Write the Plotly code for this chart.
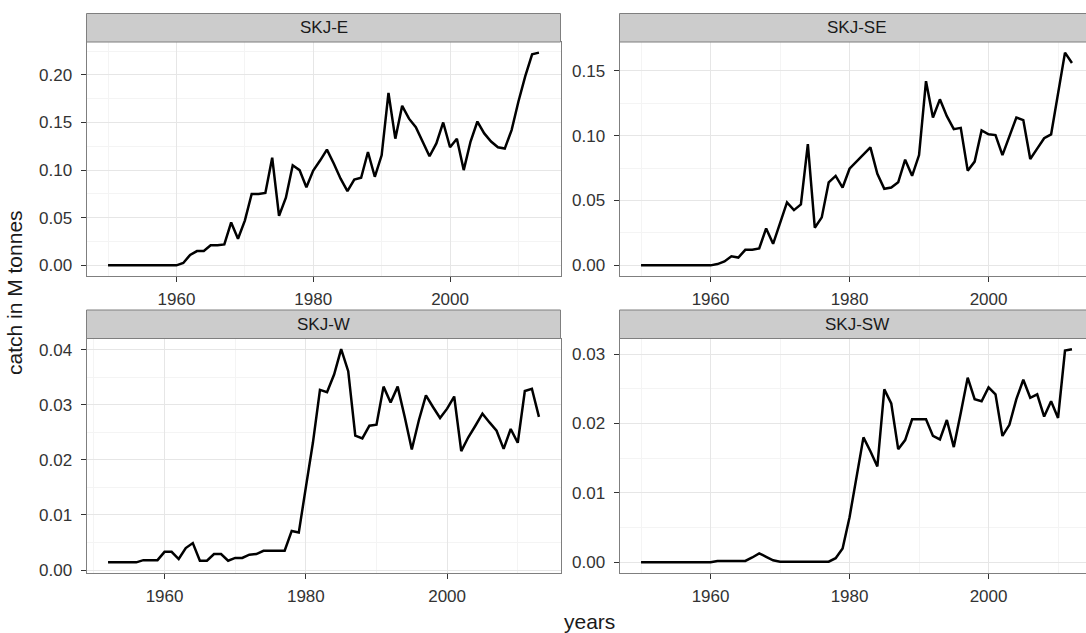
import plotly.graph_objects as go

# ---------------- data ----------------
panel_names = ["SKJ-E", "SKJ-SE", "SKJ-W", "SKJ-SW"]

years_E = list(range(1950, 2014))
catch_E = [0, 0, 0, 0, 0, 0, 0, 0, 0, 0, 0,
           0.0025, 0.011, 0.015, 0.015, 0.021, 0.021, 0.022, 0.045, 0.028, 0.047,
           0.075, 0.075, 0.076, 0.113, 0.052, 0.071, 0.105, 0.100, 0.082, 0.0996,
           0.11, 0.1215, 0.107, 0.091, 0.078, 0.09, 0.092, 0.119, 0.093, 0.1155,
           0.181, 0.133, 0.1675, 0.154, 0.145, 0.13, 0.1145, 0.128, 0.15, 0.124,
           0.133, 0.10, 0.13, 0.151, 0.1385, 0.13, 0.124, 0.1226, 0.142, 0.172,
           0.1986, 0.2216, 0.2233]

years_SE = list(range(1950, 2013))
catch_SE = [0, 0, 0, 0, 0, 0, 0, 0, 0, 0, 0,
            0.001, 0.003, 0.007, 0.006, 0.012, 0.012, 0.013, 0.0285, 0.0166, 0.032,
            0.0485, 0.0426, 0.047, 0.0934, 0.029, 0.037, 0.064, 0.069, 0.060, 0.0745,
            0.08, 0.086, 0.091, 0.0706, 0.059, 0.060, 0.064, 0.0815, 0.069, 0.085,
            0.142, 0.114, 0.128, 0.115, 0.105, 0.106, 0.073, 0.080, 0.104, 0.101,
            0.1004, 0.085, 0.099, 0.114, 0.112, 0.082, 0.090, 0.098, 0.101, 0.133,
            0.164, 0.156]

years_W = list(range(1952, 2014))
catch_W = [0.0014, 0.0014, 0.0014, 0.0014, 0.0014,
           0.0018, 0.0018, 0.0018,
           0.0033, 0.0033, 0.002, 0.004, 0.0049, 0.0017, 0.0017, 0.0029, 0.0029, 0.0017, 0.0022, 0.0022,
           0.0028, 0.0029, 0.0035, 0.0035, 0.0035, 0.0035, 0.0071, 0.0068, 0.015, 0.0231,
           0.0327, 0.0323, 0.0355, 0.0401, 0.0361, 0.0244, 0.0239, 0.0262, 0.0264, 0.0333,
           0.0304, 0.0333, 0.0278, 0.0219, 0.0272, 0.0317, 0.0296, 0.0276, 0.0293, 0.0315,
           0.0216, 0.0241, 0.0262, 0.0284, 0.0268, 0.0253, 0.022, 0.0256, 0.0231, 0.0325,
           0.0329, 0.0278]

years_SW = list(range(1950, 2013))
catch_SW = [0, 0, 0, 0, 0, 0, 0, 0, 0, 0, 0,
            0.0002, 0.0002, 0.0002, 0.0002, 0.0002,
            0.0007, 0.0013, 0.0008, 0.0003, 0.0001,
            0.0001, 0.0001, 0.0001, 0.0001, 0.0001, 0.0001, 0.0001,
            0.0006, 0.002, 0.0065, 0.0125, 0.018, 0.016, 0.0138, 0.0249, 0.0229, 0.0163,
            0.0176, 0.0206, 0.0206, 0.0206, 0.0182, 0.0177, 0.0205, 0.0166, 0.0215, 0.0266,
            0.0235, 0.0232, 0.0252, 0.0242, 0.0182, 0.0198, 0.0235, 0.0263, 0.0237, 0.0242,
            0.021, 0.0232, 0.0208, 0.0305, 0.0307]

y_major = [0.05, 0.05, 0.01, 0.01]
x_ticks = [1960, 1980, 2000]

# ---------------- layout geometry (pixels) ----------------
W, H = 1086, 633
col_px = [(86.5, 560.5), (619.5, 1086.0)]
row_px = [(42.0, 276.0), (338.5, 573.0)]      # plot area top/bottom
strip_px = [(13.5, 42.0), (310.0, 338.5)]     # strip top/bottom
full_w = col_px[0][1] - col_px[0][0]

FONT = "Liberation Sans, Arial, sans-serif"
TICK_COLOR = "#333333"

series = [(years_E, catch_E), (years_SE, catch_SE), (years_W, catch_W), (years_SW, catch_SW)]

fig = go.Figure()
shapes = []
annotations = []

for i, (name, (yrs, vals), dmaj) in enumerate(zip(panel_names, series, y_major)):
    r, c = divmod(i, 2)
    ax = "" if i == 0 else str(i + 1)
    fig.add_trace(go.Scatter(x=yrs, y=vals, mode="lines",
                             line=dict(color="black", width=2.5),
                             xaxis="x" + ax, yaxis="y" + ax, showlegend=False,
                             hoverinfo="x+y"))
    x0p, x1p = col_px[c]
    y0p, y1p = row_px[r]
    xd = [x0p / W, x1p / W]
    yd = [1 - y1p / H, 1 - y0p / H]

    lo, hi = min(yrs), max(yrs)
    span = hi - lo
    a, b = lo - 0.05 * span, hi + 0.05 * span
    frac = (x1p - x0p) / full_w
    xr = [a, a + frac * (b - a)]

    vlo, vhi = min(vals), max(vals)
    vs = vhi - vlo
    yr = [vlo - 0.05 * vs, vhi + 0.05 * vs]

    common = dict(showline=True, linecolor="#7F7F7F", linewidth=1,
                  ticks="outside", ticklen=5, tickwidth=1, tickcolor=TICK_COLOR,
                  showgrid=True, gridcolor="#E6E6E6", gridwidth=1,
                  zeroline=False, automargin=False,
                  tickfont=dict(family=FONT, size=17, color=TICK_COLOR))
    fig.layout["xaxis" + ax] = dict(common, domain=xd, range=xr, anchor="y" + ax,
                                    tickmode="array", tickvals=x_ticks,
                                    ticktext=[str(t) for t in x_ticks],
                                    mirror=True, ticklabelstandoff=3,
                                    minor=dict(showgrid=True, gridcolor="#F4F4F4",
                                               tickmode="array",
                                               tickvals=[1950, 1970, 1990, 2010]))
    fig.layout["yaxis" + ax] = dict(common, domain=yd, range=yr, anchor="x" + ax,
                                    tick0=0, dtick=dmaj, tickformat=".2f",
                                    mirror=(c == 0), ticklabelstandoff=5,
                                    minor=dict(showgrid=True, gridcolor="#F4F4F4",
                                               tick0=0, dtick=dmaj / 2))

    # strip
    st, sb = strip_px[r]
    sx1 = x1p / W if c == 0 else 1.02
    shapes.append(dict(type="rect", xref="paper", yref="paper",
                       x0=x0p / W, x1=sx1, y0=1 - sb / H, y1=1 - st / H,
                       fillcolor="#CCCCCC", line=dict(color="#7F7F7F", width=1),
                       layer="above"))
    cx = (x0p + x0p + full_w) / 2 / W
    annotations.append(dict(text=name, xref="paper", yref="paper",
                            x=cx, y=1 - (st + sb) / 2 / H, showarrow=False,
                            xanchor="center", yanchor="middle",
                            font=dict(family=FONT, size=17, color="#1A1A1A")))

annotations.append(dict(text="years", xref="paper", yref="paper",
                        x=589.5 / W, y=1 - 621 / H, showarrow=False,
                        xanchor="center", yanchor="middle",
                        font=dict(family=FONT, size=21, color="#1A1A1A")))
annotations.append(dict(text="catch in M tonnes", xref="paper", yref="paper",
                        x=14 / W, y=1 - 293 / H, showarrow=False, textangle=-90,
                        xanchor="center", yanchor="middle",
                        font=dict(family=FONT, size=21, color="#1A1A1A")))

fig.update_layout(width=W, height=H, margin=dict(l=0, r=0, t=0, b=0),
                  paper_bgcolor="white", plot_bgcolor="white",
                  shapes=shapes, annotations=annotations, showlegend=False)

fig.write_html("out.html")
